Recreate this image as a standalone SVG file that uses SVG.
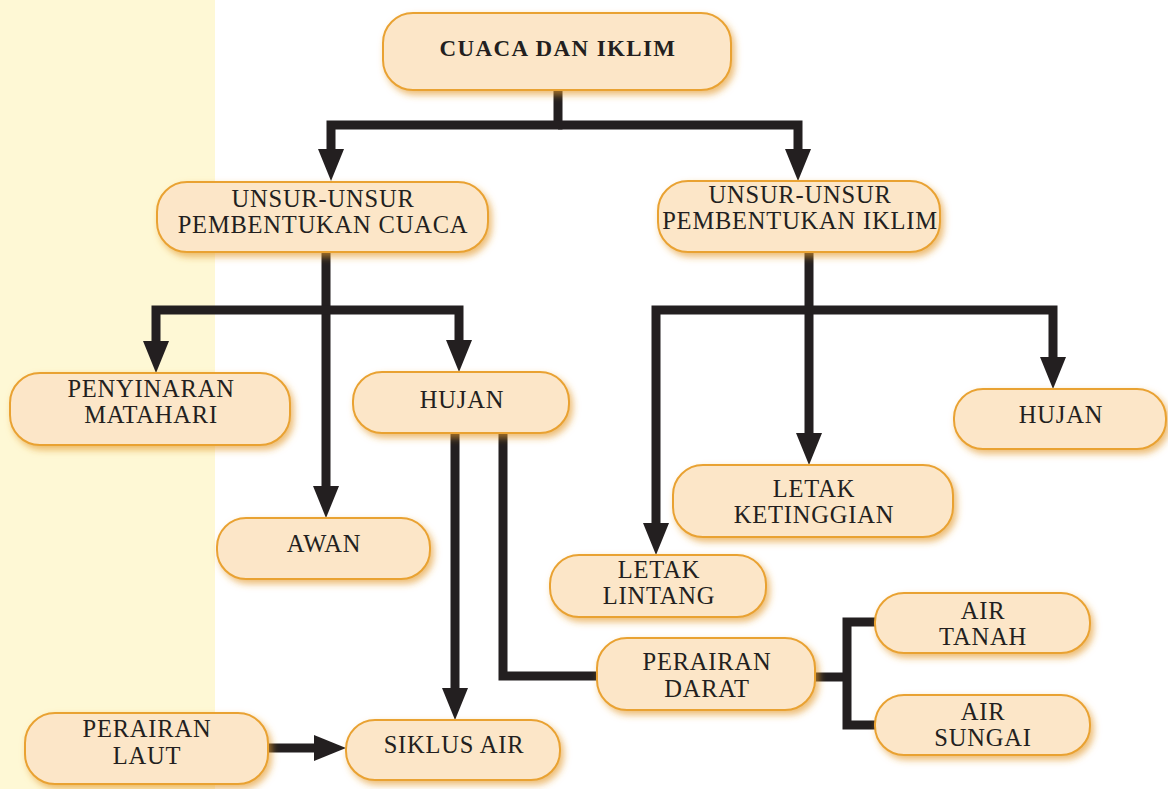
<svg xmlns="http://www.w3.org/2000/svg" width="1168" height="789" viewBox="0 0 1168 789">
<style>
.box{fill:#FCE6C8;stroke:#E9A233;stroke-width:2;filter:url(#sh)}
.t{font-family:"Liberation Serif","Times New Roman",serif;font-size:24.5px;fill:#231F20;text-anchor:middle;letter-spacing:0.8px}
.tb{font-family:"Liberation Serif","Times New Roman",serif;font-size:23px;font-weight:bold;fill:#231F20;text-anchor:middle;letter-spacing:1.4px}
.c{fill:none;stroke:#231F20;stroke-width:9;stroke-linejoin:miter;stroke-linecap:butt}
.a{marker-end:url(#ah)}
</style>
<defs>
<filter id="sh" x="-10%" y="-20%" width="125%" height="150%">
<feDropShadow dx="3" dy="4" stdDeviation="3.5" flood-color="#E39A2C" flood-opacity="0.65"/>
</filter>
<marker id="ah" markerUnits="userSpaceOnUse" markerWidth="32" markerHeight="26" viewBox="0 0 32 26" refX="20" refY="13" orient="auto">
<path d="M0,0 L32,13 L0,26 Z" fill="#231F20"/>
</marker>
</defs>
<rect x="0" y="0" width="215" height="789" fill="#FEF8D5"/>
<g id="connectors">
<path class="c a" d="M558,90 V125 H331 V169"/>
<path class="c a" d="M558,125 H798 V169"/>
<path class="c a" d="M326,252 V506"/>
<path class="c a" d="M326,310 H156 V361"/>
<path class="c a" d="M326,310 H459 V360"/>
<path class="c a" d="M809,252 V453"/>
<path class="c a" d="M809,310 H656 V543"/>
<path class="c a" d="M809,310 H1053 V377"/>
<path class="c a" d="M455,433 V708"/>
<path class="c" d="M503,433 V676 H597"/>
<path class="c" d="M815,677 H847"/>
<path class="c" d="M875,622 H847 V725 H875"/>
<path class="c a" d="M268,748 H334"/>
</g>
<g id="n-cuaca-iklim"><rect class="box" x="383" y="13" width="348" height="77" rx="30"/><text class="tb" x="558" y="56">CUACA DAN IKLIM</text></g>
<g id="n-unsur-cuaca"><rect class="box" x="157" y="182" width="331" height="70" rx="30"/><text class="t" x="323" y="207">UNSUR-UNSUR</text><text class="t" x="323" y="233">PEMBENTUKAN CUACA</text></g>
<g id="n-unsur-iklim"><rect class="box" x="658" y="181" width="282" height="71" rx="30"/><text class="t" x="800" y="203">UNSUR-UNSUR</text><text class="t" x="800" y="229">PEMBENTUKAN IKLIM</text></g>
<g id="n-penyinaran"><rect class="box" x="10" y="373" width="280" height="72" rx="30"/><text class="t" x="151" y="397">PENYINARAN</text><text class="t" x="151" y="423">MATAHARI</text></g>
<g id="n-hujan1"><rect class="box" x="353" y="372" width="216" height="61" rx="29"/><text class="t" x="462" y="408">HUJAN</text></g>
<g id="n-awan"><rect class="box" x="217" y="518" width="213" height="61" rx="29"/><text class="t" x="324" y="552">AWAN</text></g>
<g id="n-hujan2"><rect class="box" x="954" y="389" width="212" height="60" rx="29"/><text class="t" x="1061" y="423">HUJAN</text></g>
<g id="n-ketinggian"><rect class="box" x="673" y="465" width="280" height="72" rx="30"/><text class="t" x="814" y="497">LETAK</text><text class="t" x="814" y="523">KETINGGIAN</text></g>
<g id="n-lintang"><rect class="box" x="550" y="555" width="216" height="62" rx="29"/><text class="t" x="659" y="578">LETAK</text><text class="t" x="659" y="604">LINTANG</text></g>
<g id="n-darat"><rect class="box" x="597" y="638" width="218" height="72" rx="30"/><text class="t" x="707" y="670">PERAIRAN</text><text class="t" x="707" y="697">DARAT</text></g>
<g id="n-air-tanah"><rect class="box" x="875" y="593" width="215" height="60" rx="29"/><text class="t" x="983" y="619">AIR</text><text class="t" x="983" y="645">TANAH</text></g>
<g id="n-air-sungai"><rect class="box" x="875" y="695" width="215" height="60" rx="29"/><text class="t" x="983" y="720">AIR</text><text class="t" x="983" y="746">SUNGAI</text></g>
<g id="n-laut"><rect class="box" x="25" y="713" width="243" height="71" rx="30"/><text class="t" x="147" y="737">PERAIRAN</text><text class="t" x="147" y="764">LAUT</text></g>
<g id="n-siklus"><rect class="box" x="346" y="720" width="214" height="60" rx="29"/><text class="t" x="454" y="753">SIKLUS AIR</text></g>
</svg>
